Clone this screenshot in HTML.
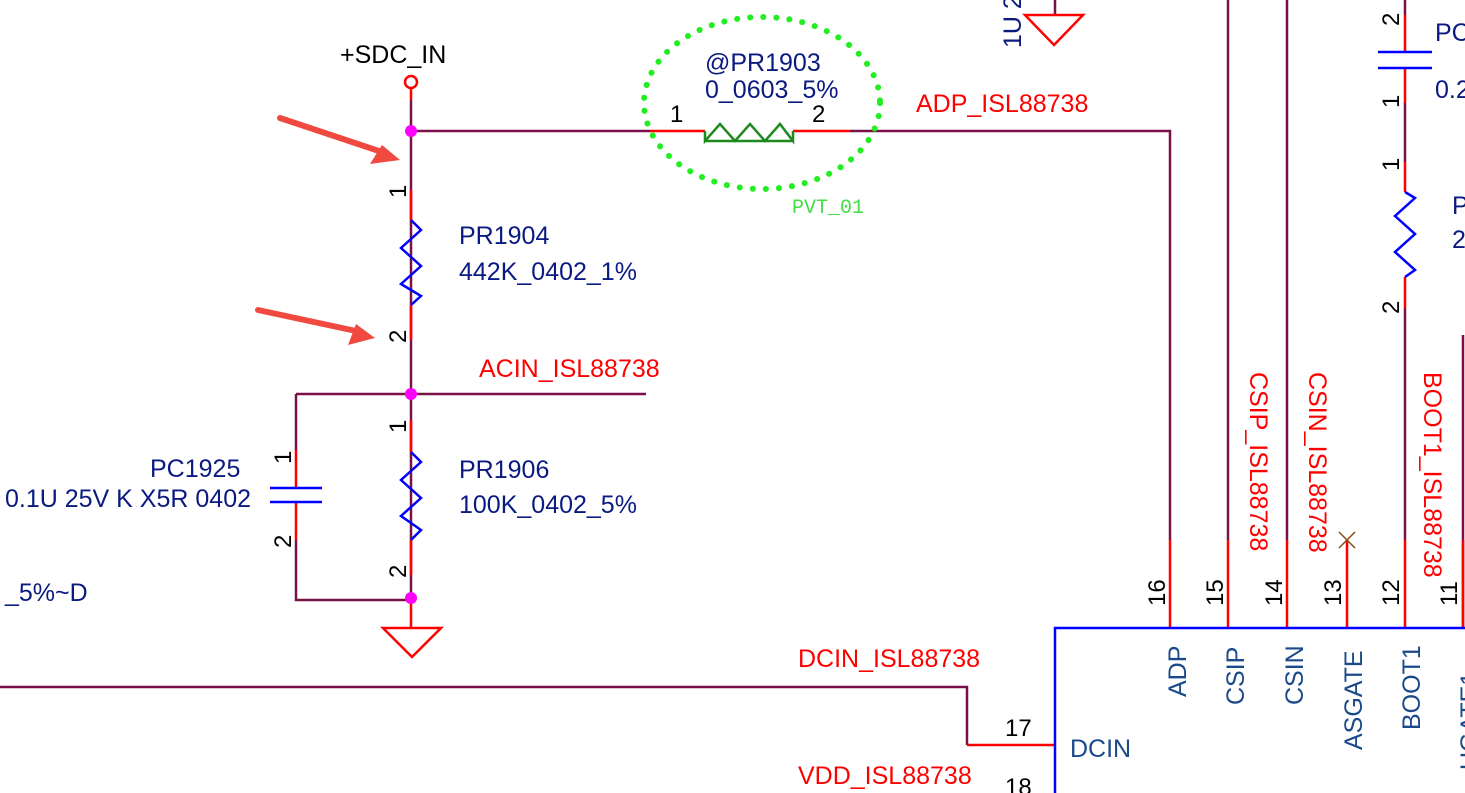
<!DOCTYPE html>
<html><head><style>body{margin:0;background:#fff}svg{display:block}text{font-family:"Liberation Sans",sans-serif;font-size:25px}.n{font-size:24px}</style></head><body>
<svg width="1465" height="793" viewBox="0 0 1465 793" xmlns="http://www.w3.org/2000/svg">
<g fill="none" stroke="#7a1048" stroke-width="2.5">
<path d="M411,100V600M411,131H650M850,131H1170V540M296,394H646M296,394V450M296,540V600H411M0,687H967V745M1228,0V540M1287,0V540M1405,0V15M1405,103V162M1405,308V540M1463,335V628M1055,0V15"/>
</g>
<g fill="none" stroke="#ff0000" stroke-width="2.5">
<path d="M411,88V100M650,131H705M793,131H850M411,190V220M411,305V340M411,420V452M411,540V575M296,450V488M296,502V540M411,600V628M383,628H441L412,657Z M967,745H1055M1170,540V628M1228,540V628M1287,540V628M1347,540V628M1405,540V628M1463,540V628M1405,15V52M1405,68V103M1405,162V192M1405,277V308M1025,15H1083L1054,45Z"/>
<circle cx="411" cy="82" r="6"/>
</g>
<g fill="none" stroke="#0000ff" stroke-width="2.5">
<path d="M411,220L421,230L401,248L421,266L401,284L421,296L411,305M411,452L421,462L401,480L421,498L401,516L421,530L411,540M1405,192L1415,198L1395,216L1415,234L1395,252L1415,270L1405,277"/>
<path d="M270,488H322M270,502H322M1378,52H1432M1378,68H1432"/>
<path d="M1055,793V628H1465"/>
</g>
<path d="M705,131L705,141L720,124L735,141L750,124L765,141L780,124L793,141L793,131M705,141H793" fill="none" stroke="#1e8a1e" stroke-width="2.5"/>
<ellipse cx="762" cy="103" rx="118" ry="86" fill="none" stroke="#22ee22" stroke-width="6" stroke-dasharray="0.1 13" stroke-linecap="round"/>
<g fill="#ff00ff"><circle cx="411" cy="131" r="6"/><circle cx="411" cy="394" r="6"/><circle cx="411" cy="598" r="6"/></g>
<path d="M1339,532L1355,548M1355,532L1339,548" stroke="#8a4a10" stroke-width="1.5"/>
<g stroke="#f04a40" stroke-width="6" stroke-linecap="round"><path d="M280,118L382,152"/><path d="M258,310L356,331"/></g>
<path d="M400,160L370,164L382,145Z M375,338L348,345L356,324Z" fill="#f04a40"/>
<g fill="#000"><text x="340" y="63">+SDC_IN</text><text class="n" x="670" y="122">1</text><text class="n" x="812" y="122">2</text><text class="n" x="1005" y="736">17</text><text class="n" x="1005" y="795">18</text></g>
<g fill="#000" class="n" transform="rotate(-90)">
<text class="n" x="-198" y="406">1</text><text class="n" x="-343" y="406">2</text><text class="n" x="-433" y="406">1</text><text class="n" x="-578" y="406">2</text>
<text class="n" x="-464" y="291">1</text><text class="n" x="-548" y="291">2</text>
<text class="n" x="-606" y="1165">16</text><text class="n" x="-606" y="1223">15</text><text class="n" x="-606" y="1282">14</text><text class="n" x="-606" y="1341">13</text><text class="n" x="-606" y="1399">12</text><text class="n" x="-606" y="1457">11</text>
<text class="n" x="-26" y="1399">2</text><text class="n" x="-108" y="1399">1</text><text class="n" x="-171" y="1399">1</text><text class="n" x="-314" y="1399">2</text>
</g>
<g fill="#0a1a80"><text x="705" y="71">@PR1903</text><text x="705" y="98">0_0603_5%</text><text x="459" y="244">PR1904</text><text x="459" y="280">442K_0402_1%</text><text x="459" y="478">PR1906</text><text x="459" y="513">100K_0402_5%</text><text x="150" y="477">PC1925</text><text x="5" y="507">0.1U 25V K X5R 0402</text><text x="5" y="601">_5%~D</text><text x="1435" y="41">PC</text><text x="1435" y="98">0.2</text><text x="1452" y="214">P</text><text x="1452" y="248">2</text><text transform="translate(1021,48) rotate(-90)">1U 2</text></g>
<g fill="#ff0000"><text x="916" y="112">ADP_ISL88738</text><text x="479" y="377">ACIN_ISL88738</text><text x="798" y="667">DCIN_ISL88738</text><text x="798" y="784">VDD_ISL88738</text>
<text transform="translate(1250,372) rotate(90)">CSIP_ISL88738</text><text transform="translate(1309,372) rotate(90)">CSIN_ISL88738</text><text transform="translate(1424,372) rotate(90)">BOOT1_ISL88738</text></g>
<text x="792" y="213" fill="#44dd44" style="font-family:'Liberation Mono',monospace;font-size:20px">PVT_01</text>
<g fill="#1a4a8a"><text x="1070" y="757">DCIN</text>
<g transform="rotate(-90)"><text x="-697" y="1186">ADP</text><text x="-705" y="1244">CSIP</text><text x="-705" y="1303">CSIN</text><text x="-750" y="1362">ASGATE</text><text x="-730" y="1420">BOOT1</text><text x="-770" y="1478">UGATE1</text></g></g>
</svg>
</body></html>
